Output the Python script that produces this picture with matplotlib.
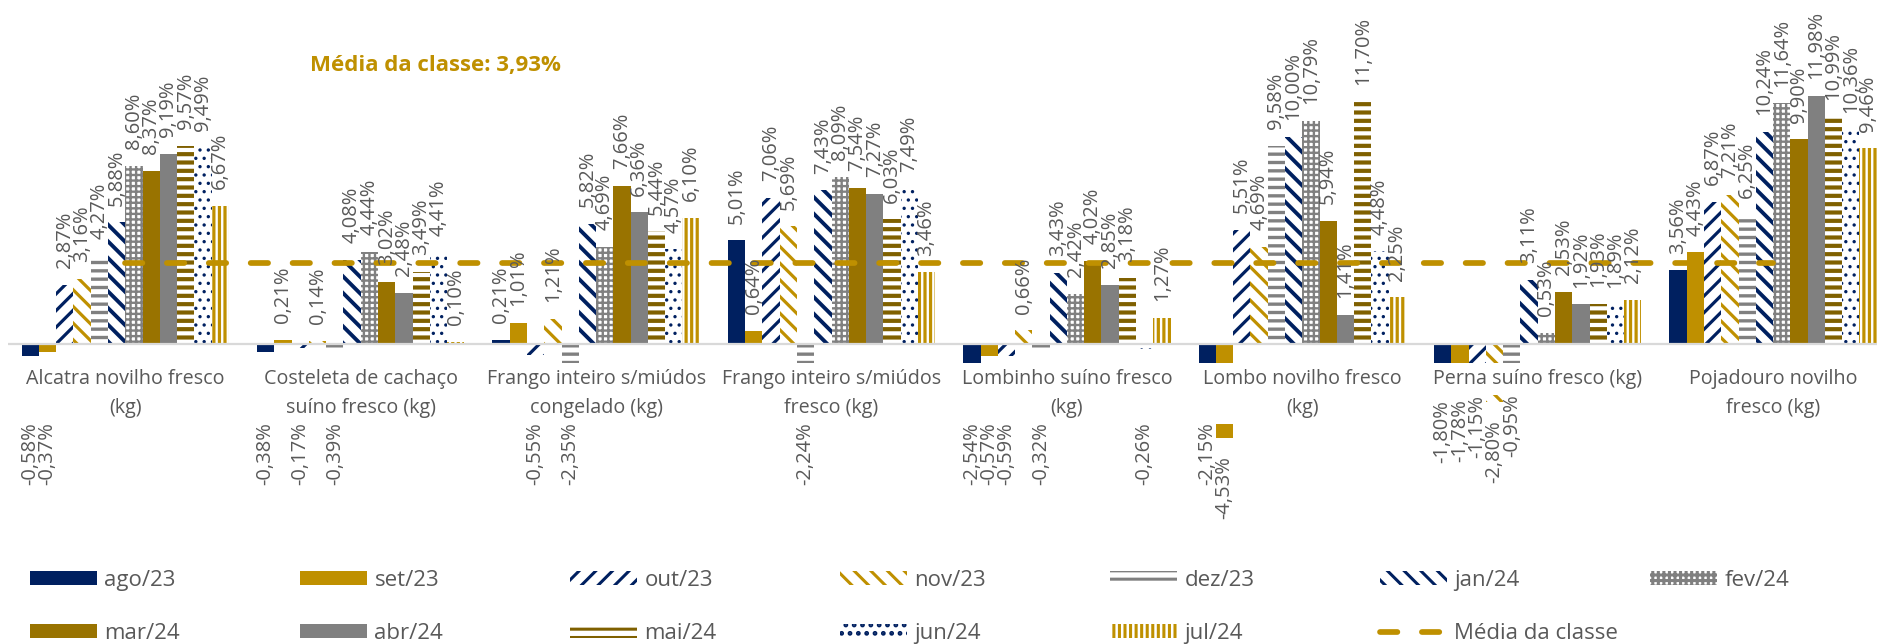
import textwrap
import numpy as np
import matplotlib
matplotlib.use("Agg")
import matplotlib.pyplot as plt
from matplotlib.lines import Line2D
from matplotlib.patches import Patch

# ---------------- data ----------------
categories = [
    "Alcatra novilho fresco (kg)",
    "Costeleta de cachaço suíno fresco (kg)",
    "Frango inteiro s/miúdos congelado (kg)",
    "Frango inteiro s/miúdos fresco (kg)",
    "Lombinho suíno fresco (kg)",
    "Lombo novilho fresco (kg)",
    "Perna suíno fresco (kg)",
    "Pojadouro novilho fresco (kg)",
]
months = ["ago/23", "set/23", "out/23", "nov/23", "dez/23", "jan/24",
          "fev/24", "mar/24", "abr/24", "mai/24", "jun/24", "jul/24"]

ago_23 = [-0.58, -0.38, 0.21, 5.01, -2.54, -2.15, -1.80, 3.56]
set_23 = [-0.37, 0.21, 1.01, 0.64, -0.57, -4.53, -1.78, 4.43]
out_23 = [2.87, -0.17, -0.55, 7.06, -0.59, 5.51, -1.15, 6.87]
nov_23 = [3.16, 0.14, 1.21, 5.69, 0.66, 4.69, -2.80, 7.21]
dez_23 = [4.27, -0.39, -2.35, -2.24, -0.32, 9.58, -0.95, 6.25]
jan_24 = [5.88, 4.08, 5.82, 7.43, 3.43, 10.00, 3.11, 10.24]
fev_24 = [8.60, 4.44, 4.69, 8.09, 2.42, 10.79, 0.53, 11.64]
mar_24 = [8.37, 3.02, 7.66, 7.54, 4.02, 5.94, 2.53, 9.90]
abr_24 = [9.19, 2.48, 6.36, 7.27, 2.85, 1.41, 1.92, 11.98]
mai_24 = [9.57, 3.49, 5.44, 6.03, 3.18, 11.70, 1.93, 10.99]
jun_24 = [9.49, 4.41, 4.57, 7.49, -0.26, 4.48, 1.89, 10.36]
jul_24 = [6.67, 0.10, 6.10, 3.46, 1.27, 2.25, 2.12, 9.46]

media_classe = [3.93, 3.93, 3.93, 3.93, 3.93, 3.93, 3.93, 3.93]
media_label = "Média da classe"
media_text = "Média da classe: 3,93%"

series = [ago_23, set_23, out_23, nov_23, dez_23, jan_24,
          fev_24, mar_24, abr_24, mai_24, jun_24, jul_24]

# ---------------- styles ----------------
NAVY = "#002060"
GOLD = "#BF9000"
GRAY = "#808080"
DKGOLD = "#997300"
BROWN = "#7F6000"
TXT = "#595959"

styles = [
    dict(fc=NAVY, ec=NAVY, hatch=None, hlw=None),
    dict(fc=GOLD, ec=GOLD, hatch=None, hlw=None),
    dict(fc="white", ec=NAVY, hatch="//", hlw=2.3),
    dict(fc="white", ec=GOLD, hatch="\\\\", hlw=2.3),
    dict(fc="white", ec=GRAY, hatch="--", hlw=2.4),
    dict(fc="white", ec=NAVY, hatch="\\\\", hlw=2.8),
    dict(fc="white", ec=GRAY, hatch="+++", hlw=1.7),
    dict(fc=DKGOLD, ec=DKGOLD, hatch=None, hlw=None),
    dict(fc=GRAY, ec=GRAY, hatch=None, hlw=None),
    dict(fc="white", ec=BROWN, hatch="--", hlw=3.0),
    dict(fc="white", ec=NAVY, hatch="..", hlw=1.2),
    dict(fc="white", ec=GOLD, hatch="|||", hlw=2.3),
]

plt.rcParams["font.family"] = ["Open Sans", "DejaVu Sans"]
plt.rcParams["hatch.linewidth"] = 2.2

W, H, DPI = 1877, 644, 100
fig = plt.figure(figsize=(W / DPI, H / DPI), dpi=DPI)

# axes geometry in pixels
left_px, cat_px = 7.6, 235.4
top_px, bot_px = 20, 540
zero_px, unit_px = 344, 20.69
ax = fig.add_axes([left_px / W, 1 - bot_px / H, 8 * cat_px / W, (bot_px - top_px) / H])
ax.set_xlim(-0.5, 7.5)
ax.set_ylim((zero_px - bot_px) / unit_px, (zero_px - top_px) / unit_px)
ax.axis("off")

x = np.arange(len(categories))
bw = 17.27 / cat_px
n = len(series)


def style_patch(p, st):
    if st["hatch"]:
        p.set_hatch(st["hatch"])
        p.set_linewidth(0)
        if hasattr(p, "set_hatch_linewidth"):
            p.set_hatch_linewidth(st["hlw"])
    else:
        p.set_linewidth(0)


for j, (vals, st) in enumerate(zip(series, styles)):
    xs = x + (j - (n - 1) / 2) * bw
    bars = ax.bar(xs, vals, width=bw, color=st["fc"], edgecolor=st["ec"], zorder=2)
    for p in bars.patches:
        style_patch(p, st)

# zero axis line
ax.axhline(0, color="#D9D9D9", lw=1.6, zorder=3)

# category labels with white box (hides bars under them, like the original)
wrapped = [textwrap.fill(c, 23) for c in categories]
for i, lab in enumerate(wrapped):
    ax.annotate(lab, xy=(x[i], 0), xytext=(0, -18), textcoords="offset points",
                ha="center", va="top", fontsize=14.2, color=TXT, linespacing=1.6,
                bbox=dict(fc="white", ec="none", pad=4.0), zorder=4)

# data labels
LBL = 14.5
for j, vals in enumerate(series):
    xs = x + (j - (n - 1) / 2) * bw
    for i, v in enumerate(vals):
        txt = f"{v:.2f}".replace(".", ",") + "%"
        if v >= 0:
            ax.annotate(txt, xy=(xs[i], v), xytext=(0, 12), textcoords="offset points",
                        rotation=90, ha="center", va="bottom", fontsize=LBL,
                        color=TXT, zorder=6)
        else:
            nlines = wrapped[i].count("\n") + 1
            floor = -3.8 if nlines > 1 else -2.45
            ax.text(xs[i], min(v - 0.9, floor), txt, rotation=90, ha="center",
                    va="top", fontsize=LBL, color=TXT, zorder=6)

# class average dashed line
lw_px = 5.7
lw_pt = lw_px * 72 / DPI
avg_line, = ax.plot(x, media_classe, color=GOLD, lw=lw_pt, dashes=(3.05, 4.3),
                    dash_capstyle="round", solid_capstyle="round", zorder=5,
                    label=media_label)

fig.text(310 / W, 1 - 66 / H, media_text, ha="left", va="center",
         fontsize=16, fontweight="bold", color=GOLD)

# legend: one block per column, uniform 270 px column pitch like the original
handles = []
for st in styles:
    p = Patch(facecolor=st["fc"], edgecolor=st["ec"])
    style_patch(p, st)
    handles.append(p)
avg_handle = Line2D([], [], color=GOLD, lw=lw_pt, dashes=(3.05, 4.3),
                    dash_capstyle="round")

columns = [
    ([handles[0], handles[7]], [months[0], months[7]]),
    ([handles[1], handles[8]], [months[1], months[8]]),
    ([handles[2], handles[9]], [months[2], months[9]]),
    ([handles[3], handles[10]], [months[3], months[10]]),
    ([handles[4], handles[11]], [months[4], months[11]]),
    ([handles[5], avg_handle], [months[5], media_label]),
    ([handles[6]], [months[6]]),
]
LEG = 16
for k, (hs, ls) in enumerate(columns):
    fig.legend(hs, ls, loc="upper left",
               bbox_to_anchor=((30 + 270 * k) / W, 1 - 570 / H),
               frameon=False, fontsize=LEG, borderpad=0, borderaxespad=0,
               handlelength=3.02, handleheight=0.585, handletextpad=0.33,
               labelspacing=1.45, labelcolor=TXT)

fig.savefig("out.png", dpi=DPI)
